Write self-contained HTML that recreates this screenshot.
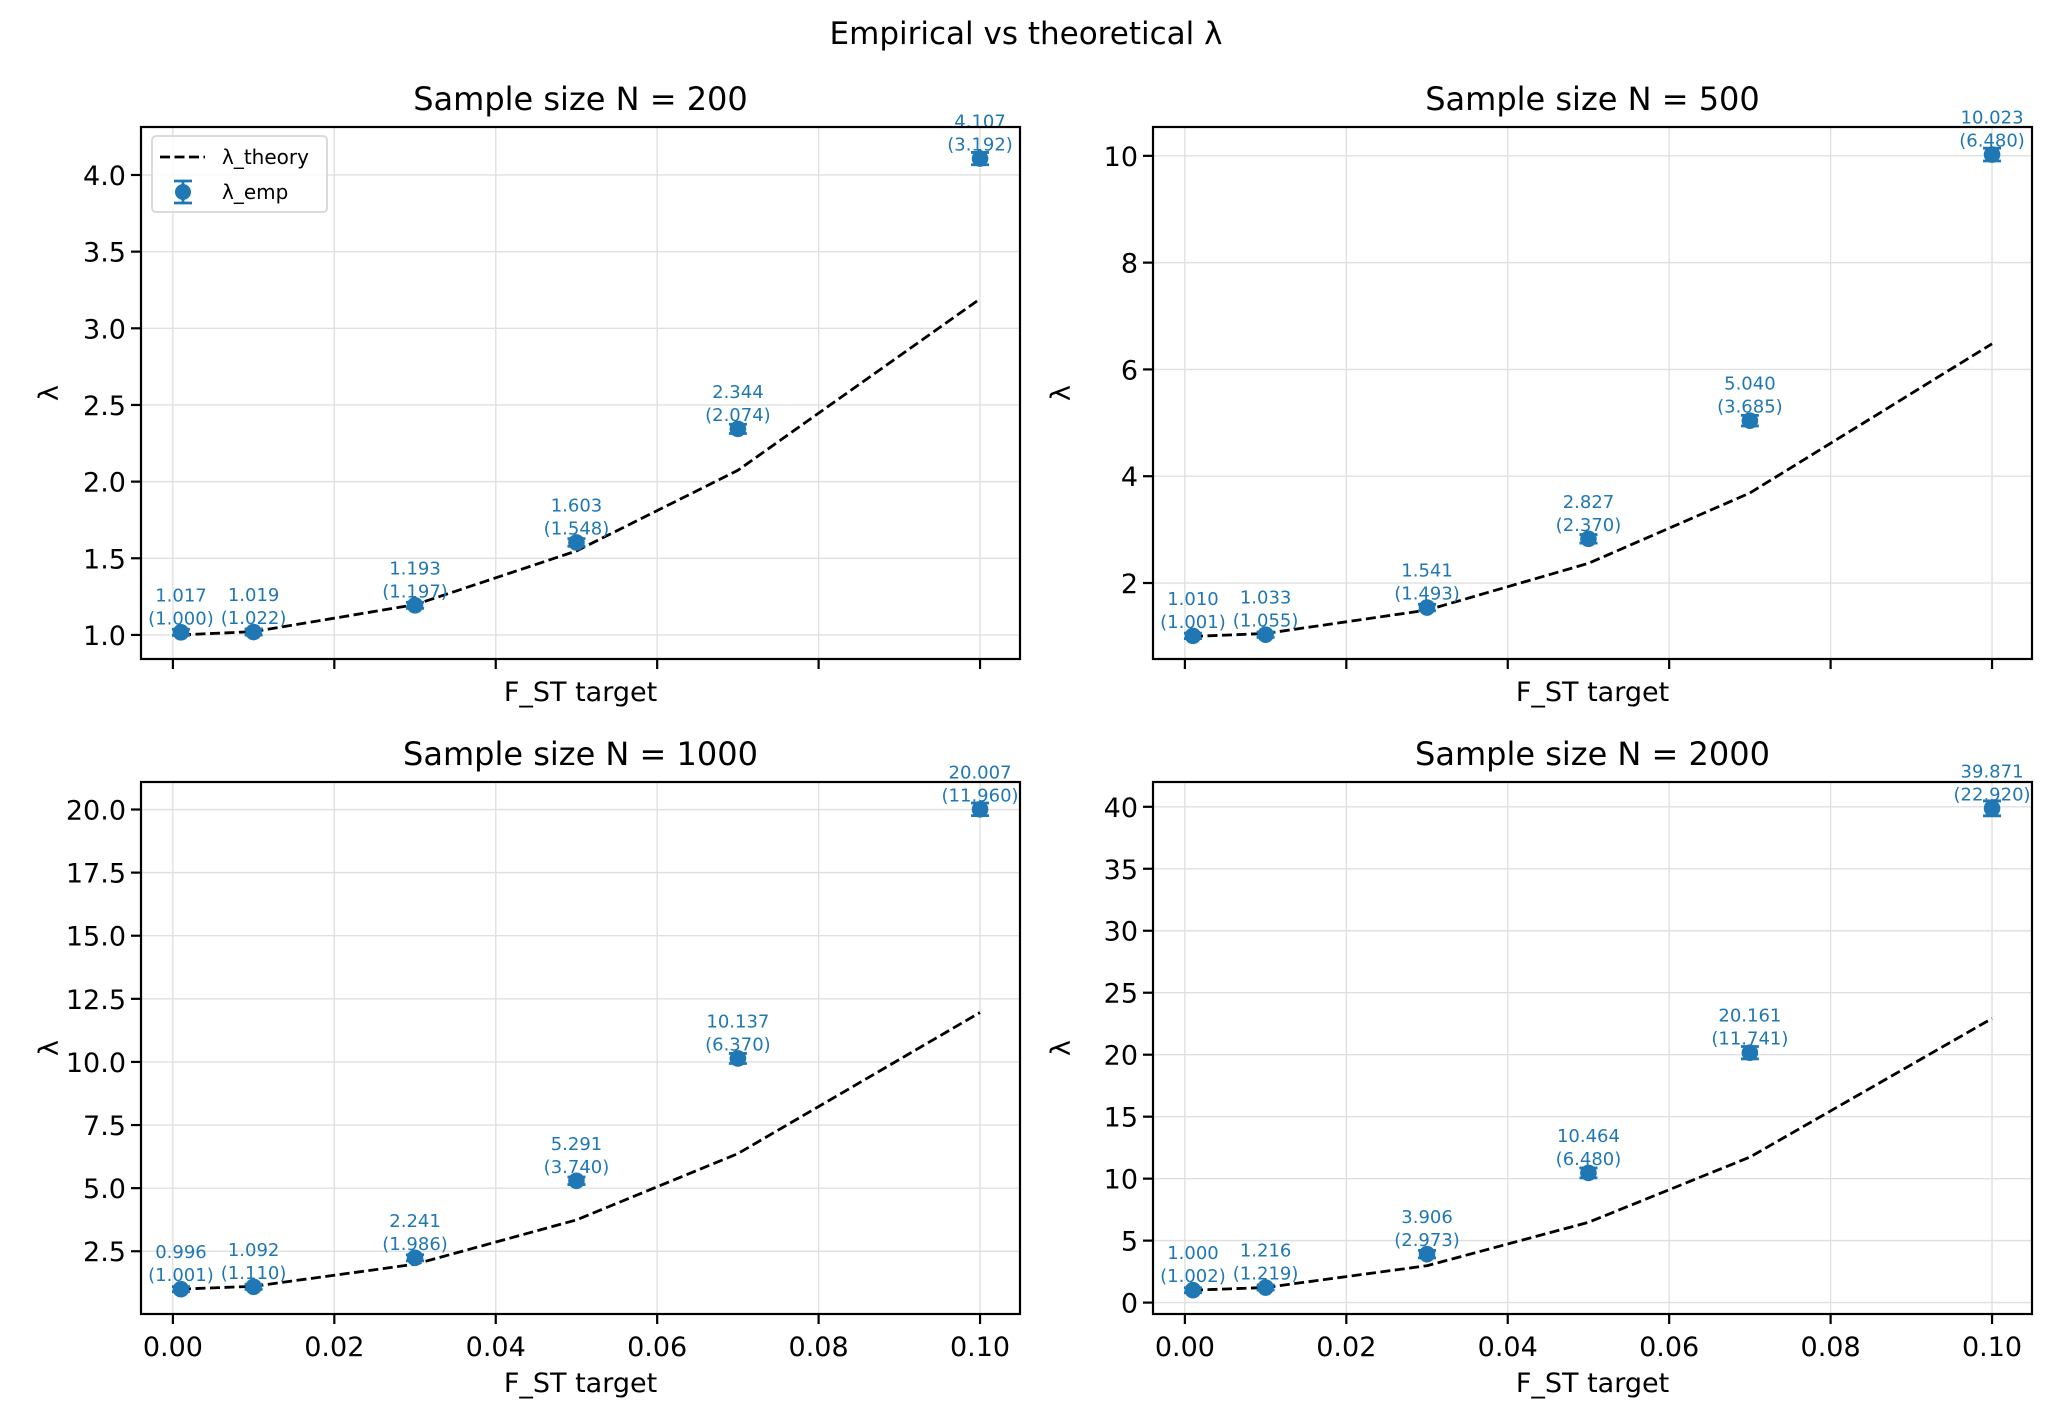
<!DOCTYPE html>
<html><head><meta charset="utf-8"><style>
html,body{margin:0;padding:0;background:#fff;}
svg{display:block;font-family:"DejaVu Sans","Liberation Sans",sans-serif;}
</style></head><body>
<svg id="fig" width="2053" height="1421" viewBox="0 0 2053 1421" xmlns="http://www.w3.org/2000/svg">
<text x="1026" y="44" text-anchor="middle" font-size="31" fill="#000">Empirical vs theoretical λ</text>
</svg>
<script>
const xs = [0.001, 0.01, 0.03, 0.05, 0.07, 0.1];
const xTicks = [0.00, 0.02, 0.04, 0.06, 0.08, 0.10];
const xTickLabels = ["0.00", "0.02", "0.04", "0.06", "0.08", "0.10"];
const titles = ["Sample size N = 200", "Sample size N = 500", "Sample size N = 1000", "Sample size N = 2000"];
const emp200 = [1.017, 1.019, 1.193, 1.603, 2.344, 4.107];
const theo200 = [1.000, 1.022, 1.197, 1.548, 2.074, 3.192];
const err200 = [0.02, 0.02, 0.02, 0.025, 0.03, 0.04];
const emp500 = [1.010, 1.033, 1.541, 2.827, 5.040, 10.023];
const theo500 = [1.001, 1.055, 1.493, 2.370, 3.685, 6.480];
const err500 = [0.05, 0.05, 0.06, 0.08, 0.1, 0.12];
const emp1000 = [0.996, 1.092, 2.241, 5.291, 10.137, 20.007];
const theo1000 = [1.001, 1.110, 1.986, 3.740, 6.370, 11.960];
const err1000 = [0.1, 0.1, 0.12, 0.15, 0.2, 0.25];
const emp2000 = [1.000, 1.216, 3.906, 10.464, 20.161, 39.871];
const theo2000 = [1.002, 1.219, 2.973, 6.480, 11.741, 22.920];
const err2000 = [0.2, 0.2, 0.3, 0.4, 0.5, 0.6];
const yTicks200 = [1.0, 1.5, 2.0, 2.5, 3.0, 3.5, 4.0];
const yTicks500 = [2, 4, 6, 8, 10];
const yTicks1000 = [2.5, 5.0, 7.5, 10.0, 12.5, 15.0, 17.5, 20.0];
const yTicks2000 = [0, 5, 10, 15, 20, 25, 30, 35, 40];
const yLims = [[0.843, 4.313], [0.577, 10.54], [0.014, 21.09], [-0.92, 42.0]];

const NS = "http://www.w3.org/2000/svg";
const svg = document.getElementById("fig");
function mk(tag, attrs, parent) {
  const e = document.createElementNS(NS, tag);
  for (const k in attrs) e.setAttribute(k, attrs[k]);
  (parent || svg).appendChild(e);
  return e;
}
const panels = [
  {L:141, R:2032-1153+141, T:127, B:659, emp:emp200, theo:theo200, err:err200, yt:yTicks200, dec:1, xl:false, yl:yLims[0], legend:true},
  {L:1153, R:2032, T:127, B:659, emp:emp500, theo:theo500, err:err500, yt:yTicks500, dec:0, xl:false, yl:yLims[1]},
  {L:141, R:2032-1153+141, T:782, B:1314, emp:emp1000, theo:theo1000, err:err1000, yt:yTicks1000, dec:1, xl:true, yl:yLims[2]},
  {L:1153, R:2032, T:782, B:1314, emp:emp2000, theo:theo2000, err:err2000, yt:yTicks2000, dec:0, xl:true, yl:yLims[3]}
];
const xmin = -0.00395, xmax = 0.10495;
panels.forEach((p, i) => {
  const g = mk("g", {});
  
  
  const sx = v => p.L + (v - xmin) / (xmax - xmin) * (p.R - p.L);
  const sy = v => p.B - (v - p.yl[0]) / (p.yl[1] - p.yl[0]) * (p.B - p.T);
  xTicks.forEach(t => {
    const l = mk("line", {x1:sx(t), x2:sx(t), y1:p.T, y2:p.B, stroke:"#e0e0e0", "stroke-width":1.4}, g);
    
    
  });
  p.yt.forEach(t => {
    const l = mk("line", {x1:p.L, x2:p.R, y1:sy(t), y2:sy(t), stroke:"#e0e0e0", "stroke-width":1.4}, g);
    
    
  });
  xTicks.forEach((t, j) => {
    mk("line", {x1:sx(t), x2:sx(t), y1:p.B, y2:p.B + 10, stroke:"#000", "stroke-width":2.2}, g);
    if (p.xl) {
      const tx = mk("text", {x:sx(t), y:p.B + 42, "text-anchor":"middle", "font-size":27, fill:"#000"}, g);
      tx.textContent = xTickLabels[j];
      
      
    }
  });
  p.yt.forEach(t => {
    mk("line", {x1:p.L - 10, x2:p.L, y1:sy(t), y2:sy(t), stroke:"#000", "stroke-width":2.2}, g);
    const tx = mk("text", {x:p.L - 15, y:sy(t) + 10, "text-anchor":"end", "font-size":27, fill:"#000"}, g);
    tx.textContent = t.toFixed(p.dec);
    
    
  });
  const d = xs.map((x, j) => (j ? "L" : "M") + sx(x).toFixed(1) + " " + sy(p.theo[j]).toFixed(1)).join(" ");
  const line = mk("path", {d:d, fill:"none", stroke:"#000", "stroke-width":2.8, "stroke-dasharray":"10 4.5"}, g);
  
  
  xs.forEach((x, j) => {
    const cx = sx(x), cy = sy(p.emp[j]);
    const y1 = sy(p.emp[j] - p.err[j]), y2 = sy(p.emp[j] + p.err[j]);
    mk("line", {x1:cx, x2:cx, y1:y1, y2:y2, stroke:"#1f77b4", "stroke-width":2.8}, g);
    mk("line", {x1:cx - 9, x2:cx + 9, y1:y1, y2:y1, stroke:"#1f77b4", "stroke-width":2.8}, g);
    mk("line", {x1:cx - 9, x2:cx + 9, y1:y2, y2:y2, stroke:"#1f77b4", "stroke-width":2.8}, g);
    const c = mk("circle", {cx:cx, cy:cy, r:8.3, fill:"#1f77b4"}, g);
    
    
    const t1 = mk("text", {x:cx, y:cy - 31, "text-anchor":"middle", "font-size":18, fill:"#1f77b4"}, g);
    t1.textContent = p.emp[j].toFixed(3);
    
    
    const t2 = mk("text", {x:cx, y:cy - 8, "text-anchor":"middle", "font-size":18, fill:"#1f77b4"}, g);
    t2.textContent = "(" + p.theo[j].toFixed(3) + ")";
    
    
  });
  const fr = mk("rect", {x:p.L, y:p.T, width:p.R - p.L, height:p.B - p.T, fill:"none", stroke:"#000", "stroke-width":2.2}, g);
  
  
  const ti = mk("text", {x:(p.L + p.R) / 2, y:p.T - 17, "text-anchor":"middle", "font-size":32, fill:"#000"}, g);
  ti.textContent = titles[i];
  
  
  const xlab = mk("text", {x:(p.L + p.R) / 2, y:p.B + (p.xl ? 78 : 42), "text-anchor":"middle", "font-size":27, fill:"#000"}, g);
  xlab.textContent = "F_ST target";
  
  
  const ylx = p.L - 83, yly = (p.T + p.B) / 2;
  const ylab = mk("text", {x:ylx, y:yly, "text-anchor":"middle", "font-size":27, fill:"#000", transform:"rotate(-90 " + ylx + " " + yly + ")"}, g);
  ylab.textContent = "λ";
  
  
  if (p.legend) {
    const lg = mk("g", {}, g);
    
    
    mk("rect", {x:152, y:136, width:175, height:76, rx:4, fill:"#fff", "fill-opacity":0.8, stroke:"#d6d6d6", "stroke-width":1.8}, lg);
    mk("line", {x1:160, x2:205, y1:157, y2:157, stroke:"#000", "stroke-width":2.8, "stroke-dasharray":"10 4.5"}, lg);
    const a = mk("text", {x:222, y:164, "font-size":20, fill:"#000"}, lg);
    a.textContent = "λ_theory";
    
    
    mk("line", {x1:183, x2:183, y1:181, y2:203, stroke:"#1f77b4", "stroke-width":2.8}, lg);
    mk("line", {x1:174, x2:192, y1:181, y2:181, stroke:"#1f77b4", "stroke-width":2.8}, lg);
    mk("line", {x1:174, x2:192, y1:203, y2:203, stroke:"#1f77b4", "stroke-width":2.8}, lg);
    mk("circle", {cx:183, cy:192, r:8, fill:"#1f77b4"}, lg);
    const b = mk("text", {x:222, y:199, "font-size":20, fill:"#000"}, lg);
    b.textContent = "λ_emp";
    
    
  }
});
</script>
</body></html>
